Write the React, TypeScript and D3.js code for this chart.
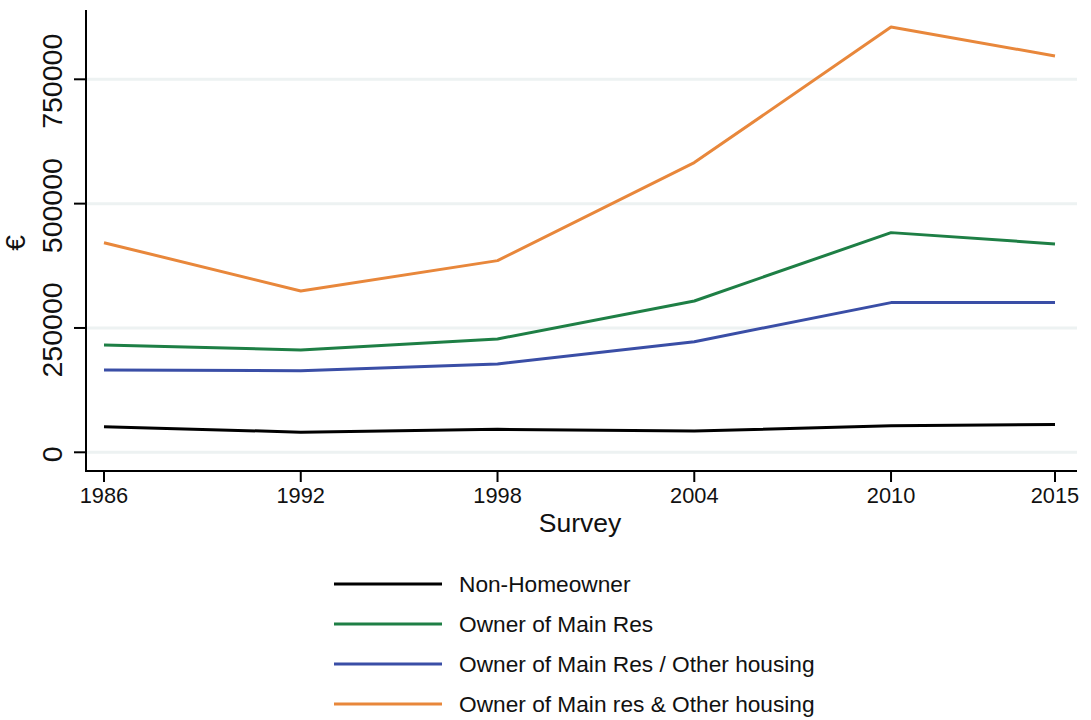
import React from "react";
import * as d3 from "d3";

const years = [1986, 1992, 1998, 2004, 2010, 2015];
const nonHomeowner = [51500, 40500, 46200, 42800, 53500, 56000];
const ownerMainRes = [215800, 205800, 227900, 304300, 441700, 419000];
const ownerMainOrOther = [165500, 164100, 177600, 222400, 301000, 301000];
const ownerMainAndOther = [421500, 324400, 385400, 582500, 855000, 797000];
const yTicks = [0, 250000, 500000, 750000];
const seriesNames = [
  "Non-Homeowner",
  "Owner of Main Res",
  "Owner of Main Res / Other housing",
  "Owner of Main res & Other housing",
];
const seriesColors = ["#000000", "#1e7f45", "#3a4ea6", "#e8873b"];
const seriesValues = [nonHomeowner, ownerMainRes, ownerMainOrOther, ownerMainAndOther];

const FONT = "'Liberation Sans', Arial, Helvetica, sans-serif";

export default function App() {
  const x = d3.scaleLinear().domain([1986, 2015]).range([104, 1055]);
  const y = d3.scaleLinear().domain([0, 750000]).range([452.3, 79.3]);
  const line = d3
    .line<[number, number]>()
    .x((d) => x(d[0]))
    .y((d) => y(d[1]));

  const plotLeft = 86;
  const plotRight = 1077;
  const plotTop = 10;
  const plotBottom = 471;

  return (
    <svg
      width={1091}
      height={720}
      style={{ position: "absolute", left: 0, top: 0, background: "#fff" }}
      fontFamily={FONT}
    >
      <rect x={0} y={0} width={1091} height={720} fill="#fff" />
      {/* gridlines */}
      {yTicks.map((t) => (
        <line
          key={"g" + t}
          x1={plotLeft}
          x2={plotRight}
          y1={y(t)}
          y2={y(t)}
          stroke="#edf2f2"
          strokeWidth={3}
        />
      ))}
      {/* series */}
      {seriesValues.map((vals, i) => (
        <path
          key={"s" + i}
          d={line(years.map((yr, j) => [yr, vals[j]]) as [number, number][]) || ""}
          fill="none"
          stroke={seriesColors[i]}
          strokeWidth={3}
          strokeLinejoin="round"
        />
      ))}
      {/* axes */}
      <line x1={plotLeft} x2={plotLeft} y1={plotTop} y2={plotBottom + 1} stroke="#000" strokeWidth={2} />
      <line x1={plotLeft - 1} x2={plotRight} y1={plotBottom} y2={plotBottom} stroke="#000" strokeWidth={2} />
      {yTicks.map((t) => (
        <g key={"yt" + t}>
          <line x1={plotLeft - 12} x2={plotLeft} y1={y(t)} y2={y(t)} stroke="#000" strokeWidth={2} />
          <text
            transform={`translate(61.5, ${y(t) + 2}) rotate(-90)`}
            textAnchor="middle"
            fontSize={28.5}
            fill="#111"
          >
            {String(t)}
          </text>
        </g>
      ))}
      {years.map((yr) => (
        <g key={"xt" + yr}>
          <line x1={x(yr)} x2={x(yr)} y1={plotBottom} y2={plotBottom + 11} stroke="#000" strokeWidth={2} />
          <text x={x(yr)} y={503} textAnchor="middle" fontSize={21.8} fill="#111">
            {String(yr)}
          </text>
        </g>
      ))}
      <text
        transform={`translate(25, 243) rotate(-90)`}
        textAnchor="middle"
        fontSize={28}
        fill="#111"
      >
        €
      </text>
      <text x={580} y={532} textAnchor="middle" fontSize={26.5} fill="#111">
        Survey
      </text>
      {/* legend */}
      {seriesNames.map((name, i) => (
        <g key={"l" + i}>
          <line
            x1={334}
            x2={442}
            y1={584 + 40 * i}
            y2={584 + 40 * i}
            stroke={seriesColors[i]}
            strokeWidth={3}
          />
          <text x={459} y={592 + 40 * i} fontSize={22.7} fill="#111">
            {name}
          </text>
        </g>
      ))}
    </svg>
  );
}
